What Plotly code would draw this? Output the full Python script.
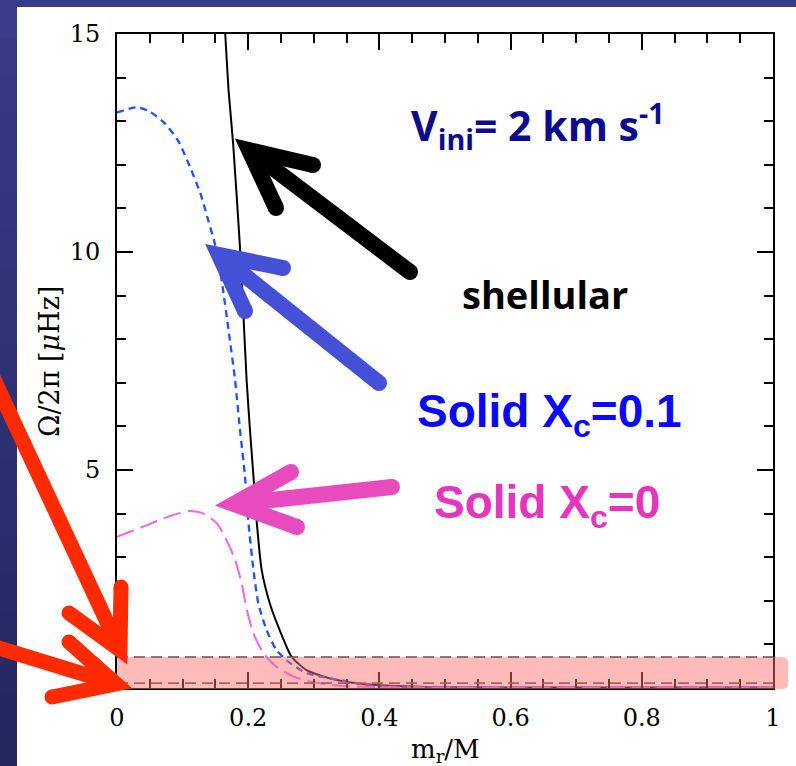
import plotly.graph_objects as go

# ---------------- data ----------------
shell_x = [0.158, 0.165, 0.170, 0.177, 0.1875, 0.1926, 0.1976, 0.2027, 0.2078, 0.2128,
           0.2205, 0.233, 0.248, 0.266, 0.289, 0.325, 0.365, 0.416, 0.47, 0.55, 0.7, 0.85, 1.0]
shell_y = [16.5, 15.0, 13.72, 12.49, 10.1, 8.59, 7.06, 5.92, 4.9, 3.85,
           2.71, 1.94, 1.33, 0.72, 0.41, 0.22, 0.11, 0.05, 0.025, 0.015, 0.01, 0.01, 0.01]

solid01_x = [0.0, 0.03, 0.05, 0.073, 0.094, 0.111, 0.127, 0.139, 0.149, 0.160, 0.170, 0.180,
             0.1875, 0.195, 0.200, 0.208, 0.2155, 0.228, 0.243, 0.264, 0.289, 0.34, 0.39,
             0.45, 0.6, 0.8, 1.0]
solid01_y = [13.2, 13.32, 13.22, 12.95, 12.53, 11.96, 11.35, 10.73, 10.2, 9.3, 8.21, 7.06,
             5.92, 4.87, 3.85, 2.71, 1.94, 1.33, 0.87, 0.57, 0.34, 0.18, 0.05,
             0.02, 0.01, 0.01, 0.01]

solid0_x = [0.0, 0.040, 0.078, 0.111, 0.132, 0.152, 0.167, 0.180, 0.190, 0.198, 0.208,
            0.223, 0.243, 0.269, 0.294, 0.34, 0.4, 0.6, 0.8, 1.0]
solid0_y = [3.47, 3.70, 3.93, 4.06, 4.0, 3.78, 3.39, 2.94, 2.40, 1.79, 1.25,
            0.80, 0.49, 0.26, 0.15, 0.05, 0.02, 0.01, 0.01, 0.01]

band_levels = [0.71, 0.11]          # dashed horizontal lines (observed range)

x_ticks = [0, 0.2, 0.4, 0.6, 0.8, 1.0]
x_ticklabels = ["0", "0.2", "0.4", "0.6", "0.8", "1"]
y_ticks = [0, 5, 10, 15]
y_ticklabels = ["0", "5", "10", "15"]

# ---------------- layout geometry ----------------
W, H = 796, 766
L, R, T, B = 117, 23, 34, 78
PW, PH = W - L - R, H - T - B


def px(x):
    return (x - L) / PW


def py(y):
    return (H - B - y) / PH


fig = go.Figure()

fig.add_trace(go.Scatter(x=shell_x, y=shell_y, mode="lines",
                         line=dict(color="black", width=2.0, shape="spline", smoothing=0.6),
                         showlegend=False, hoverinfo="skip"))
fig.add_trace(go.Scatter(x=solid01_x, y=solid01_y, mode="lines",
                         line=dict(color="rgb(30,80,255)", width=2.3, dash="7px,5px",
                                   shape="spline", smoothing=0.6),
                         showlegend=False, hoverinfo="skip"))
fig.add_trace(go.Scatter(x=solid0_x, y=solid0_y, mode="lines",
                         line=dict(color="rgb(240,100,240)", width=2.0, dash="18px,7px",
                                   shape="spline", smoothing=0.6),
                         showlegend=False, hoverinfo="skip"))

shapes = []

# slide background strips (blue frame top & left)
shapes.append(dict(type="rect", xref="paper", yref="paper", layer="below",
                   x0=px(0), x1=px(W), y0=py(0), y1=py(7),
                   fillcolor="rgb(56,60,138)", line=dict(width=0)))
nseg = 20
for i in range(nseg):
    y0p = i * H / nseg
    y1p = (i + 1) * H / nseg + 1
    f = i / (nseg - 1)
    r = int(56 + (36 - 56) * f)
    g = int(60 + (39 - 60) * f)
    b = int(138 + (94 - 138) * f)
    shapes.append(dict(type="rect", xref="paper", yref="paper", layer="below",
                       x0=px(0), x1=px(17), y0=py(y0p), y1=py(y1p),
                       fillcolor=f"rgb({r},{g},{b})", line=dict(width=0)))

# dashed horizontal levels
for lv in band_levels:
    shapes.append(dict(type="line", xref="x", yref="y", x0=0, x1=1, y0=lv, y1=lv,
                       line=dict(color="rgb(85,85,85)", width=1.8, dash="11px,6px"),
                       layer="above"))

# pink highlight band with rounded right end
bx0, bx1, by0, by1, rr = 117, 788, 657, 689, 6
band_path = (f"M {px(bx0)},{py(by0)} L {px(bx1 - rr)},{py(by0)} "
             f"Q {px(bx1)},{py(by0)} {px(bx1)},{py(by0 + rr)} "
             f"L {px(bx1)},{py(by1 - rr)} Q {px(bx1)},{py(by1)} {px(bx1 - rr)},{py(by1)} "
             f"L {px(bx0)},{py(by1)} Z")
shapes.append(dict(type="path", xref="paper", yref="paper", path=band_path,
                   fillcolor="rgb(255,110,110)", opacity=0.48, line=dict(width=0),
                   layer="above"))


def arrow(tail, tip, arm1, arm2, color, w):
    shapes.append(dict(type="line", xref="paper", yref="paper",
                       x0=px(tail[0]), y0=py(tail[1]), x1=px(tip[0]), y1=py(tip[1]),
                       line=dict(color=color, width=w), layer="above"))
    path = (f"M {px(arm1[0])},{py(arm1[1])} L {px(tip[0])},{py(tip[1])} "
            f"L {px(arm2[0])},{py(arm2[1])}")
    shapes.append(dict(type="path", xref="paper", yref="paper", path=path,
                       line=dict(color=color, width=w), layer="above"))
    rad = w / 2.0
    for (cx, cy) in (tail, arm1, arm2):
        shapes.append(dict(type="circle", xref="paper", yref="paper",
                           x0=px(cx - rad), x1=px(cx + rad), y0=py(cy - rad), y1=py(cy + rad),
                           fillcolor=color, line=dict(width=0), layer="above"))


arrow((410, 272), (249, 150), (313, 165), (276, 208), "black", 16)
arrow((379, 383), (219, 255), (283, 268), (245, 311), "rgb(70,80,214)", 16)
arrow((392, 487), (234, 504), (291, 472), (297, 527), "rgb(232,75,190)", 16)
arrow((-8, 375), (120, 650), (121, 587), (69, 613), "rgb(255,42,0)", 15)
arrow((-8, 646), (116, 684), (69, 642), (52, 697), "rgb(255,42,0)", 15)

annotations = [
    dict(text="V<sub>ini</sub>= 2 km s<sup>-1</sup>", x=px(538), y=py(126),
         font=dict(family="Open Sans", size=41, color="rgb(12,12,140)", weight="bold")),
    dict(text="shellular", x=px(545), y=py(294),
         font=dict(family="Open Sans", size=38, color="black", weight="bold")),
    dict(text="Solid X<sub>c</sub>=0.1", x=px(549), y=py(414),
         font=dict(family="Liberation Sans", size=46, color="rgb(10,10,245)", weight="bold")),
    dict(text="Solid X<sub>c</sub>=0", x=px(547), y=py(505),
         font=dict(family="Liberation Sans", size=46, color="rgb(229,53,190)", weight="bold")),
    dict(text="Ω/2π [<i>μ</i>Hz]", x=px(50), y=py(362), textangle=-90,
         font=dict(family="DejaVu Serif", size=27, color="black")),
    dict(text="m<sub>r</sub>/M", x=px(445), y=py(750),
         font=dict(family="DejaVu Serif", size=26, color="black")),
]
for a in annotations:
    a.update(xref="paper", yref="paper", showarrow=False, xanchor="center", yanchor="middle")

axis_common = dict(showline=True, linecolor="black", linewidth=1.8, mirror="allticks",
                   ticks="inside", tickwidth=1.8, ticklen=16, tickcolor="black",
                   showgrid=False, zeroline=False,
                   tickfont=dict(family="DejaVu Serif", size=24, color="black"))

fig.update_layout(
    width=W, height=H, autosize=False,
    margin=dict(l=L, r=R, t=T, b=B, pad=0),
    paper_bgcolor="white", plot_bgcolor="white",
    shapes=shapes, annotations=annotations,
    xaxis=dict(range=[0, 1], tickvals=x_ticks, ticktext=x_ticklabels,
               ticklabelstandoff=7,
               minor=dict(dtick=0.05, ticklen=9, ticks="inside", tickwidth=1.8,
                          tickcolor="black", showgrid=False),
               **axis_common),
    yaxis=dict(range=[0, 15], tickvals=y_ticks, ticktext=y_ticklabels,
               ticklabelstandoff=10,
               minor=dict(dtick=1, ticklen=9, ticks="inside", tickwidth=1.8,
                          tickcolor="black", showgrid=False),
               **axis_common),
)

fig.write_html("out.html")
